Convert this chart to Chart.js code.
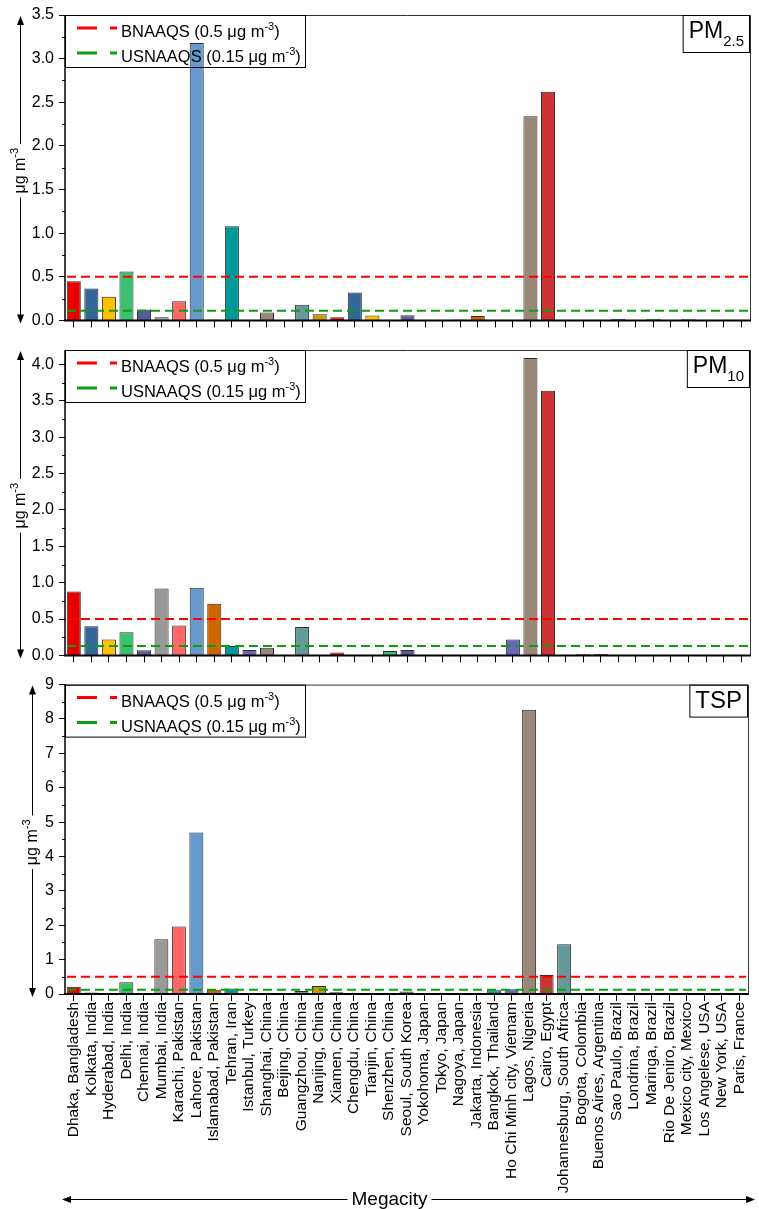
<!DOCTYPE html>
<html lang="en">
<head>
<meta charset="UTF-8">
<title>Megacity PM2.5 / PM10 / TSP</title>
<script src="https://cdn.jsdelivr.net/npm/chart.js"></script>
<style>
    body { margin: 0; background: #fff; }
    #wrap { position: relative; width: 759px; height: 1209px; }
    .panel { position: absolute; left: 0; width: 759px; }
</style>
</head>
<body>
<div id="wrap">
    <div class="panel" style="top:0;height:335px"><canvas id="pm25"></canvas></div>
    <div class="panel" style="top:335px;height:335px"><canvas id="pm10"></canvas></div>
    <div class="panel" style="top:670px;height:539px"><canvas id="tsp"></canvas></div>
</div>
<script>
    // categories (x axis)
    const cities = [
        'Dhaka, Bangladesh', 'Kolkata, India', 'Hyderabad, India', 'Delhi, India', 'Chennai, India',
        'Mumbai, India', 'Karachi, Pakistan', 'Lahore, Pakistan', 'Islamabad, Pakistan', 'Tehran, Iran',
        'Istanbul, Turkey', 'Shanghai, China', 'Beijing, China', 'Guangzhou, China', 'Nanjing, China',
        'Xiamen, China', 'Chengdu, China', 'Tianjin, China', 'Shenzhen, China', 'Seoul, South Korea',
        'Yokohoma, Japan', 'Tokyo, Japan', 'Nagoya, Japan', 'Jakarta, Indonesia', 'Bangkok, Thailand',
        'Ho Chi Minh city, Vietnam', 'Lagos, Nigeria', 'Cairo, Egypt', 'Johannesburg, South Africa', 'Bogota, Colombia',
        'Buenos Aires, Argentina', 'Sao Paulo, Brazil', 'Londrina, Brazil', 'Maringa, Brazil', 'Rio De Jeniro, Brazil',
        'Mexico city, Mexico', 'Los Angelese, USA', 'New York, USA', 'Paris, France'
    ];

    // values in µg m-3 (null = no bar)
    const pm25 = [
        0.45, 0.365, 0.27, 0.56, 0.125, 0.035, 0.22, 3.18, 0.01, 1.08,
        null, 0.09, null, 0.18, 0.07, 0.035, 0.32, 0.055, null, 0.06,
        null, null, 0.01, 0.05, null, null, 2.34, 2.62, null, null,
        null, 0.02, null, 0.02, null, 0.02, null, 0.005, 0.005
    ];
    const pm10 = [
        0.88, 0.40, 0.22, 0.32, 0.07, 0.92, 0.41, 0.93, 0.71, 0.13,
        0.075, 0.105, null, 0.39, null, 0.04, null, null, 0.06, 0.075,
        null, null, 0.01, null, null, 0.22, 4.09, 3.64, null, 0.02,
        0.02, null, null, null, null, null, null, null, null
    ];
    const tsp = [
        0.21, 0.04, null, 0.34, 0.01, 1.59, 1.96, 4.70, 0.12, 0.16,
        null, null, null, 0.09, 0.23, 0.05, null, null, null, 0.07,
        0.01, 0.01, 0.01, null, 0.11, 0.14, 8.27, 0.55, 1.45, null,
        null, null, null, null, 0.01, null, null, null, null
    ];

    // standard lines: [BNAAQS, USNAAQS as drawn] per panel
    const bnaaqs = [0.5, 0.5, 0.5];
    const usnaaqs = [0.11, 0.13, 0.12];

    const palette = ['#e60000', '#336699', '#ffc000', '#3cbf70', '#5b5b99', '#999999', '#ff6666', '#6699cc',
                     '#cc6600', '#009999', '#6666bb', '#998877', '#cc3333', '#669999', '#cc9900'];

    const FONT = 'Arial, "Liberation Sans", sans-serif';

    function drawRich(ctx, x, y, parts) {
        let cx = x;
        parts.forEach(([t, size, dy]) => {
            ctx.font = size + 'px ' + FONT;
            ctx.fillText(t, cx, y + dy);
            cx += ctx.measureText(t).width;
        });
        return cx - x;
    }
    function richWidth(ctx, parts) {
        let w = 0;
        parts.forEach(([t, size]) => { ctx.font = size + 'px ' + FONT; w += ctx.measureText(t).width; });
        return w;
    }
    function arrowHead(ctx, x, y, dx, dy) {
        const len = 9, half = 3.5;
        const px = -dy, py = dx;
        ctx.beginPath();
        ctx.moveTo(x, y);
        ctx.lineTo(x - dx * len + px * half, y - dy * len + py * half);
        ctx.lineTo(x - dx * len - px * half, y - dy * len - py * half);
        ctx.closePath();
        ctx.fill();
    }

    const panelDecor = {
        id: 'panelDecor',
        afterDatasetsDraw(chart, args, o) {
            const { ctx, chartArea: a, scales: { y } } = chart;
            ctx.save();
            ctx.fillStyle = '#000';
            ctx.strokeStyle = '#000';

            // minor y ticks
            ctx.lineWidth = 1;
            ctx.beginPath();
            for (let v = o.step / 2; v < y.max; v += o.step) {
                const py = Math.round(y.getPixelForValue(v)) + 0.5;
                ctx.moveTo(a.left - 3, py);
                ctx.lineTo(a.left, py);
            }
            ctx.stroke();

            // frame
            ctx.strokeStyle = '#333';
            ctx.beginPath();
            ctx.moveTo(a.left, a.top + 0.5);
            ctx.lineTo(a.right + 0.5, a.top + 0.5);
            ctx.lineTo(a.right + 0.5, a.bottom);
            ctx.stroke();
            ctx.strokeStyle = '#000';
            ctx.lineWidth = 1.5;
            ctx.beginPath();
            ctx.moveTo(a.left, a.top);
            ctx.lineTo(a.left, a.bottom);
            ctx.stroke();
            ctx.lineWidth = 2;
            ctx.beginPath();
            ctx.moveTo(a.left - 1, a.bottom);
            ctx.lineTo(a.right + 1, a.bottom);
            ctx.stroke();

            // standard lines
            [[o.bn, '#ff0000'], [o.us, '#109c10']].forEach(([v, c]) => {
                const py = y.getPixelForValue(v);
                ctx.strokeStyle = c;
                ctx.lineWidth = 2;
                ctx.setLineDash([9, 5]);
                ctx.beginPath();
                ctx.moveTo(a.left + 2, py);
                ctx.lineTo(a.right - 2, py);
                ctx.stroke();
            });

            // legend
            const lx = a.left, ly = a.top;
            ctx.setLineDash([]);
            ctx.strokeStyle = '#000';
            ctx.lineWidth = 1;
            ctx.strokeRect(lx + 0.5, ly + 0.5, 240, 52);
            const items = [
                ['#ff0000', [['BNAAQS (0.5 μg m', 16.5, 0], ['-3', 11, -7], [')', 16.5, 0]]],
                ['#109c10', [['USNAAQS (0.15 μg m', 16.5, 0], ['-3', 11, -7], [')', 16.5, 0]]]
            ];
            items.forEach(([c, parts], i) => {
                const yy = ly + 13 + i * 25;
                ctx.strokeStyle = c;
                ctx.lineWidth = 3;
                ctx.setLineDash([20, 13]);
                ctx.beginPath();
                ctx.moveTo(lx + 12, yy);
                ctx.lineTo(lx + 52, yy);
                ctx.stroke();
                ctx.setLineDash([]);
                ctx.fillStyle = '#000';
                ctx.textBaseline = 'alphabetic';
                drawRich(ctx, lx + 56, yy + 9, parts);
            });

            // panel label box
            const bw = richWidth(ctx, o.label) + 11;
            const bh = o.labelH;
            ctx.strokeStyle = '#000';
            ctx.lineWidth = 1;
            ctx.strokeRect(a.right - bw - 0.5, a.top + 0.5, bw, bh);
            drawRich(ctx, a.right - bw + 5, a.top + 23, o.label);

            // y axis title with arrows
            const tx = o.titleX;
            const cy = (a.top + a.bottom) / 2 + 3;
            const tparts = [['μg m', 16, 0], ['-3', 11, -7]];
            const tw = richWidth(ctx, tparts);
            ctx.strokeStyle = '#000';
            ctx.lineWidth = 1;
            ctx.beginPath();
            ctx.moveTo(tx + 0.5, a.top + 2);
            ctx.lineTo(tx + 0.5, cy - tw / 2 - 4);
            ctx.moveTo(tx + 0.5, cy + tw / 2 + 4);
            ctx.lineTo(tx + 0.5, a.bottom + 2);
            ctx.stroke();
            arrowHead(ctx, tx + 0.5, a.top + 1, 0, -1);
            arrowHead(ctx, tx + 0.5, a.bottom + 3, 0, 1);
            ctx.save();
            ctx.translate(tx + 5, cy + tw / 2);
            ctx.rotate(-Math.PI / 2);
            drawRich(ctx, 0, 0, tparts);
            ctx.restore();

            // x axis title (bottom panel only)
            if (o.xTitle) {
                const h = chart.height;
                ctx.font = '19px ' + FONT;
                const mw = ctx.measureText('Megacity').width;
                const mx = (a.left + a.right) / 2 - 17;
                ctx.textAlign = 'center';
                ctx.fillText('Megacity', mx, h - 4);
                const ay = h - 10 + 0.5;
                ctx.beginPath();
                ctx.moveTo(a.left - 2, ay);
                ctx.lineTo(mx - mw / 2 - 4, ay);
                ctx.moveTo(mx + mw / 2 + 4, ay);
                ctx.lineTo(a.right + 6, ay);
                ctx.stroke();
                arrowHead(ctx, a.left - 3, ay, -1, 0);
                arrowHead(ctx, a.right + 7, ay, 1, 0);
            }
            ctx.restore();
        }
    };

    function makePanel(id, values, cfg) {
        return new Chart(document.getElementById(id), {
            type: 'bar',
            data: {
                labels: cities,
                datasets: [{
                    data: values,
                    backgroundColor: cities.map((c, i) => palette[i % palette.length]),
                    borderColor: '#2b2b2b',
                    borderWidth: 1,
                    barPercentage: 0.8,
                    categoryPercentage: 1
                }]
            },
            options: {
                responsive: true,
                maintainAspectRatio: false,
                animation: false,
                layout: { padding: { top: cfg.padTop, right: 9, bottom: cfg.padBottom, left: 0 } },
                plugins: {
                    legend: { display: false },
                    tooltip: { enabled: false },
                    panelDecor: cfg.decor
                },
                scales: {
                    x: {
                        offset: true,
                        grid: { display: true, offset: false, drawOnChartArea: false, drawTicks: true,
                                tickLength: 7, tickColor: '#000', tickWidth: 1 },
                        border: { display: false },
                        ticks: {
                            display: cfg.showLabels, autoSkip: false, maxRotation: 90, minRotation: 90,
                            padding: 1, color: '#000', font: { family: FONT, size: 15.5 }
                        },
                        afterFit: s => { s.height = cfg.xHeight; }
                    },
                    y: {
                        min: 0,
                        max: cfg.max,
                        grid: { display: true, drawOnChartArea: false, drawTicks: true,
                                tickLength: 6, tickColor: '#000', tickWidth: 1 },
                        border: { display: false },
                        ticks: {
                            padding: 5, color: '#000',
                            font: { family: FONT, size: 16 },
                            callback: v => cfg.step < 1 ? v.toFixed(1) : String(v)
                        },
                        afterBuildTicks: s => {
                            const list = [];
                            for (let k = 0; k * cfg.step <= cfg.max + 1e-9; k++) {
                                list.push({ value: +(k * cfg.step).toFixed(2) });
                            }
                            s.ticks = list;
                        },
                        afterFit: s => { s.width = 65; }
                    }
                }
            },
            plugins: [panelDecor]
        });
    }

    makePanel('pm25', pm25, {
        padTop: 15, padBottom: 2, xHeight: 8, showLabels: false, max: 3.5, step: 0.5,
        decor: { bn: bnaaqs[0], us: usnaaqs[0], step: 0.5, titleX: 20, labelH: 37,
                 label: [['PM', 23, 0], ['2.5', 15, 8]] }
    });
    makePanel('pm10', pm10, {
        padTop: 15, padBottom: 2, xHeight: 8, showLabels: false, max: 4.2, step: 0.5,
        decor: { bn: bnaaqs[1], us: usnaaqs[1], step: 0.5, titleX: 20, labelH: 37,
                 label: [['PM', 23, 0], ['10', 15, 8]] }
    });
    makePanel('tsp', tsp, {
        padTop: 14, padBottom: 0, xHeight: 215, showLabels: true, max: 9, step: 1,
        decor: { bn: bnaaqs[2], us: usnaaqs[2], step: 1, titleX: 32, labelH: 32, xTitle: true,
                 label: [['TSP', 24, 0]] }
    });
</script>
</body>
</html>
